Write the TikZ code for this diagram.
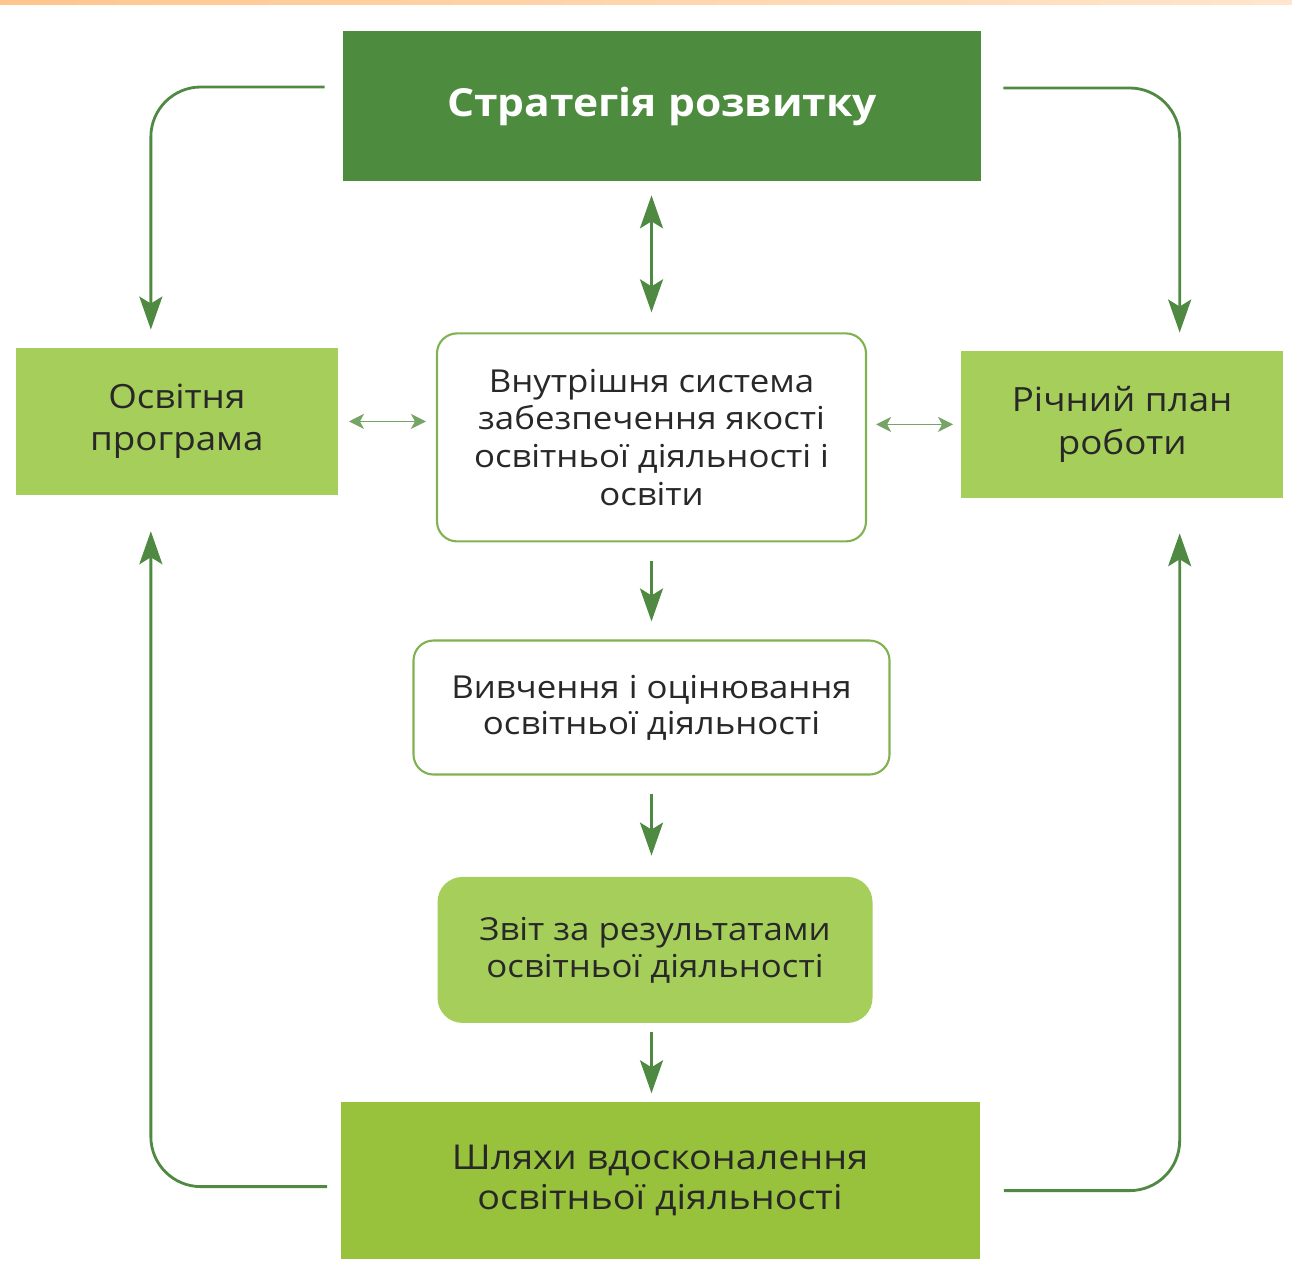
\documentclass[tikz,border=0pt]{standalone}
\usepackage{fontspec}
\setmainfont{Open Sans}[FakeStretch=1.1]
\usetikzlibrary{arrows.meta, positioning, calc}

\definecolor{leafdark}{RGB}{77,139,62}
\definecolor{leaflight}{RGB}{166,206,90}
\definecolor{leafbright}{RGB}{152,194,60}
\definecolor{leafedge}{RGB}{128,178,82}
\definecolor{arrowgreen}{RGB}{80,138,66}
\definecolor{arrowpale}{RGB}{118,164,100}
\definecolor{inkgray}{RGB}{40,40,40}

\begin{document}
\begin{tikzpicture}[
  font=\fontsize{18}{21.5}\selectfont,
  text=inkgray,
  node distance=2cm,
  topbox/.style={fill=leafdark, text=white, font=\fontsize{22}{26}\selectfont\bfseries, minimum width=12.76cm, minimum height=3cm, align=center},
  sidebox/.style={fill=leaflight, align=center, minimum width=6.43cm, minimum height=2.94cm, font=\fontsize{19}{24}\selectfont},
  framebox/.style={draw=leafedge, line width=1.2pt, fill=white, rounded corners=0.4cm, align=center},
  reportbox/.style={fill=leaflight, rounded corners=0.5cm, align=center, minimum width=8.7cm, minimum height=2.92cm, font=\fontsize{18}{21}\selectfont},
  waysbox/.style={fill=leafbright, align=center, minimum width=12.78cm, minimum height=3.14cm, font=\fontsize{19.5}{22.7}\selectfont},
  arr/.style={-{Stealth[length=0.66cm, width=0.46cm, inset=0.14cm]}, line width=1.6pt, draw=arrowgreen},
  dblarr/.style={{Stealth[length=0.66cm, width=0.46cm, inset=0.14cm]}-{Stealth[length=0.66cm, width=0.46cm, inset=0.14cm]}, line width=1.6pt, draw=arrowgreen},
  thinarr/.style={{Stealth[length=0.3cm, width=0.3cm, inset=0.08cm]}-{Stealth[length=0.3cm, width=0.3cm, inset=0.08cm]}, line width=0.9pt, draw=arrowpale},
  looparr/.style={arr, rounded corners=1cm}
]
\useasboundingbox (0,0) rectangle (25.84,-25.7);
\shade[left color=orange!45, right color=orange!20] (0,0) rectangle (25.84,-0.1);

\node[topbox] (strat) at (13.24,-2.12) {Стратегія розвитку};
\node[framebox, minimum width=8.58cm, minimum height=4.16cm, below=3.02cm of strat, xshift=-0.21cm] (sys) {Внутрішня система\\забезпечення якості\\освітньої діяльності і\\освіти};
\node[sidebox, left=1.96cm of sys, yshift=0.32cm] (prog) {Освітня\\програма};
\node[sidebox, right=1.88cm of sys, yshift=0.26cm] (plan) {Річний план\\роботи};
\node[framebox, minimum width=9.52cm, minimum height=2.68cm, below=1.94cm of sys, font=\fontsize{18}{20.5}\selectfont] (study) {Вивчення і оцінювання\\освітньої діяльності};
\node[reportbox, below=2.02cm of study, xshift=0.07cm] (report) {Звіт за результатами\\освітньої діяльності};
\node[waysbox, below=1.56cm of report, xshift=0.1cm] (ways) {Шляхи вдосконалення\\освітньої діяльності};

% loops round the sides
\draw[looparr] ([xshift=-0.36cm, yshift=0.38cm]strat.west) -| ([xshift=-0.52cm, yshift=0.36cm]prog.north);
\draw[looparr] ([xshift=0.44cm, yshift=0.36cm]strat.east) -| ([xshift=1.15cm, yshift=0.36cm]plan.north);
\draw[looparr] ([xshift=-0.26cm, yshift=-0.13cm]ways.west) -| ([xshift=-0.52cm, yshift=-0.72cm]prog.south);
\draw[looparr] ([xshift=0.48cm, yshift=-0.21cm]ways.east) -| ([xshift=1.15cm, yshift=-0.7cm]plan.south);

% centre column
\draw[dblarr, shorten <=0.28cm, shorten >=0.4cm] (sys.north |- strat.south) -- (sys.north);
\draw[thinarr, shorten <=0.22cm, shorten >=0.2cm] (prog.east) -- (prog.east -| sys.west);
\draw[thinarr, shorten <=0.18cm, shorten >=0.16cm] (sys.east |- plan.west) -- (plan.west);
\draw[arr, shorten <=0.38cm, shorten >=0.36cm] (sys.south) -- (study.north);
\draw[arr, shorten <=0.36cm, shorten >=0.42cm] (study.south) -- (study.south |- report.north);
\draw[arr, shorten <=0.18cm, shorten >=0.16cm] (study.south |- report.south) -- (study.south |- ways.north);
\end{tikzpicture}
\end{document}
